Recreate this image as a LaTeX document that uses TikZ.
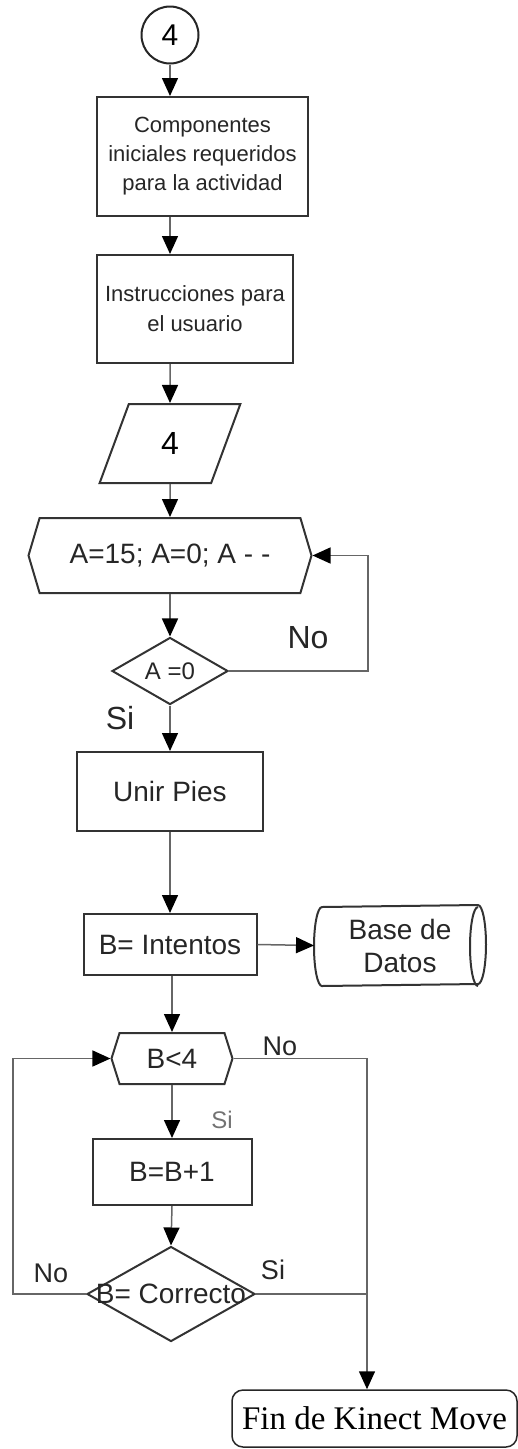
\documentclass[tikz,border=0pt]{standalone}
\usepackage{fontspec}
\setmainfont{Liberation Sans}
\newfontfamily\finfont{Liberation Serif}
\usetikzlibrary{arrows.meta, shapes.geometric, shapes.symbols}

\begin{document}
\begin{tikzpicture}[x=1pt, y=-1pt, line width=2pt,
    box/.style={rectangle, draw=black!80, inner sep=0pt, align=center, text=black!85, font=\fontsize{28}{32}\selectfont},
    prep/.style={signal, signal to=west and east, draw=black!80, inner sep=0pt, text=black!85, font=\fontsize{28}{32}\selectfont},
    dec/.style={diamond, draw=black!80, inner sep=0pt, text=black!85},
    flow/.style={-{Triangle[width=16pt, length=18pt, color=black]}, line width=1.5pt, draw=black!60},
    link/.style={line width=1.5pt, draw=black!60},
    lbl/.style={text=black!85, font=\fontsize{27}{30}\selectfont}]

    \useasboundingbox (0, 0) rectangle (518, 1449);

    % Node definitions
    \node (c4) at (170, 35) [circle, draw=black!85, minimum size=57pt, inner sep=0pt, font=\fontsize{30}{32}\selectfont] {4};
    \node (b1) at (202.5, 156.5) [box, minimum width=211pt, minimum height=119pt, font=\fontsize{22}{29}\selectfont] {Componentes\\iniciales requeridos\\para la actividad};
    \node (b2) at (195, 309) [box, minimum width=196pt, minimum height=108pt, font=\fontsize{22}{30}\selectfont] {Instrucciones para\\el usuario};
    \node (pa) at (170, 443.5) [trapezium, trapezium left angle=74, trapezium right angle=106, trapezium stretches=true, draw=black!80, minimum width=141pt, minimum height=79pt, inner sep=0pt, font=\fontsize{32}{34}\selectfont] {4};
    \node (hA) at (170, 555.5) [prep, signal pointer angle=147, minimum width=283pt, minimum height=75pt] {A=15; A=0; A - -};
    \node (dA) at (170, 671) [dec, minimum width=116pt, minimum height=64pt, font=\fontsize{24}{26}\selectfont] {A =0};
    \node (up) at (170, 791.5) [box, minimum width=186pt, minimum height=79pt] {Unir Pies};
    \node (bi) at (170, 944.5) [box, minimum width=173pt, minimum height=61pt] {B= Intentos};
    \node (db) at (400, 945.5) [rectangle, minimum width=170pt, minimum height=79pt, inner sep=0pt, align=center, text=black!85, font=\fontsize{28}{33}\selectfont] {Base de\\Datos};
    \node (hB) at (172, 1058.5) [prep, signal pointer angle=145, minimum width=121pt, minimum height=51pt] {B<4};
    \node (bb) at (172, 1172) [box, minimum width=159pt, minimum height=66pt] {B=B+1};
    \node (dB) at (171, 1294) [dec, minimum width=168pt, minimum height=95pt, label={[font=\fontsize{28}{30}\selectfont, text=black!85]center:B= Correcto}] {};
    \node (fin) at (374.5, 1418.5) [rectangle, rounded corners=11pt, draw=black!85, line width=1.5pt, minimum width=285pt, minimum height=57pt, inner sep=0pt, font=\finfont\fontsize{33}{36}\selectfont] {Fin de Kinect Move};

    % Data base outline
    \draw[draw=black!80] ([xshift=8pt]db.south west) arc[start angle=270, end angle=90, x radius=8pt, y radius=39.5pt]
        -- ([xshift=-8pt]db.north east) arc[start angle=90, end angle=-90, x radius=8pt, y radius=39.5pt] -- cycle;
    \draw[draw=black!80] ([xshift=-8pt]db.south east) arc[start angle=270, end angle=90, x radius=8pt, y radius=39.5pt];

    % Loop corners
    \coordinate (loopA) at (368, 600);
    \coordinate (loopB) at (13, 1200);

    % Edge definitions
    \draw[flow] (c4) -- (c4 |- b1.north);
    \draw[flow] (c4 |- b1.south) -- (c4 |- b2.north);
    \draw[flow] (pa |- b2.south) -- (pa.north);
    \draw[flow] (pa.south) -- (hA.north);
    \draw[flow] (hA.south) -- (dA.north);
    \draw[flow] (dA.east) -- (dA.east -| loopA) |- (hA.east);
    \draw[flow] (dA.south) -- (up.north);
    \draw[flow] (up.south) -- (bi.north);
    \draw[flow] (bi.east) -- (db.west);
    \draw[flow] (hB |- bi.south) -- (hB.north);
    \draw[flow] (hB.south) -- (bb.north);
    \draw[flow] (bb.south) -- (dB.north);
    \draw[flow] (dB.west) -- (dB.west -| loopB) |- (hB.west);
    \draw[flow] (hB.east) -| ([xshift=-7.5pt]fin.north);
    \draw[link] (dB.east) -- ([xshift=-7.5pt]fin.north |- dB.east);

    % Labels
    \node (noA) at (308, 638) [lbl, font=\fontsize{32}{34}\selectfont] {No};
    \node (siA) at (120, 718) [lbl, font=\fontsize{32}{34}\selectfont] {Si};
    \node (noB) at (280, 1046) [lbl] {No};
    \node (siB) at (222, 1120) [lbl, text=black!55, font=\fontsize{24}{26}\selectfont] {Si};
    \node (noC) at (51, 1273) [lbl] {No};
    \node (siC) at (273, 1270) [lbl] {Si};
\end{tikzpicture}
\end{document}
